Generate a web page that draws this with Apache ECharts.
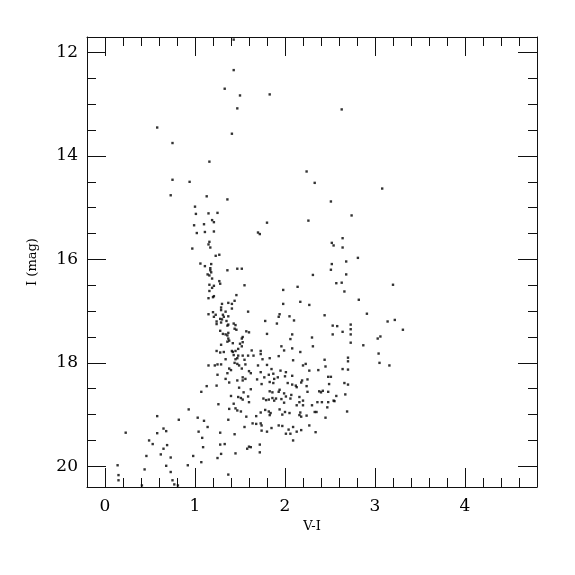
<!DOCTYPE html>
<html>
<head>
<meta charset="utf-8">
<script src="https://cdn.jsdelivr.net/npm/echarts@6/dist/echarts.min.js"></script>
<style>
html,body{margin:0;padding:0;background:#fff;}
#chart{width:575px;height:575px;}
</style>
</head>
<body>
<div id="chart"></div>
<script>
// V-I colour and I magnitude of each star
var colorVI = [
1.43,1.43,1.33,1.50,1.83,1.47,0.58,1.41,0.75,1.16,0.75,0.94,2.63,2.24,2.33,3.08,
0.73,1.13,1.36,1.00,1.01,1.15,1.25,1.19,1.21,0.99,1.10,1.80,1.11,1.02,1.21,1.70,1.72,1.16,1.15,1.17,0.97,1.23,1.27,1.06,
1.11,1.18,1.17,1.17,1.18,1.36,1.47,1.52,1.14,1.16,1.19,1.27,1.28,1.55,1.16,1.21,1.19,1.16,1.21,1.20,
1.46,1.15,1.44,1.30,1.37,1.41,1.29,1.29,1.34,1.41,1.59,1.20,1.15,1.23,1.21,1.31,1.32,1.37,1.28,1.30,
1.35,1.24,1.24,1.29,1.36,1.37,1.43,1.45,1.44,1.46,1.57,1.60,1.28,1.31,1.34,1.37,1.36,1.53,1.78,1.80,
1.91,1.93,1.94,
2.51,2.74,2.26,2.64,2.52,2.54,2.64,2.81,2.68,2.52,2.51,2.31,2.68,2.57,2.63,2.14,1.98,2.66,3.20,2.82,
1.98,2.17,2.27,2.05,2.10,2.44,2.91,2.53,2.58,2.73,2.73,2.64,3.14,3.22,3.31,2.08,2.06,2.30,2.53,2.73,
3.03,3.06,
1.96,1.99,2.08,2.17,2.31,2.73,2.87,3.04,3.05,3.16,2.70,2.70,2.64,2.70,2.09,2.20,2.23,2.44,2.45,2.27,
2.37,1.95,2.01,2.00,2.08,2.48,2.51,2.25,2.03,2.08,2.12,2.13,2.19,2.18,2.24,2.49,2.66,2.70,1.94,1.99,
2.01,2.07,2.16,2.25,2.38,2.40,2.42,2.48,2.57,2.54,2.55,2.67,1.96,1.99,2.06,2.13,2.16,2.20,2.20,2.30,
2.36,2.41,2.48,2.47,2.69,1.94,1.97,2.00,2.05,2.17,2.16,2.18,2.24,2.33,2.35,2.45,1.97,2.09,2.04,2.13,
2.18,2.27,2.34,2.01,2.06,2.09,
1.37,1.36,1.38,1.29,1.42,1.50,1.52,1.53,1.24,1.28,1.32,1.41,1.42,1.45,1.48,1.52,1.63,1.73,1.73,1.43,
1.48,1.53,1.59,1.65,1.34,1.45,1.47,1.55,1.75,1.83,1.93,1.15,1.22,1.25,1.29,1.44,1.47,1.49,1.56,1.70,
1.80,1.85,1.38,1.40,1.52,1.60,1.62,1.73,1.25,1.36,1.53,1.56,1.69,1.77,1.82,1.87,1.88,1.92,1.34,1.38,
1.47,1.53,1.83,1.87,1.74,1.24,1.13,1.62,1.49,1.07,1.54,1.83,1.86,1.93,1.40,1.48,1.51,1.53,1.59,1.76,
1.79,1.82,1.86,1.90,1.88,1.26,1.43,1.45,1.47,1.51,1.60,1.38,1.57,1.68,1.73,1.78,1.82,1.84,1.83,1.37,
1.55,1.64,1.68,1.73,1.74,1.74,1.80,1.85,1.93,1.44,1.28,1.08,1.09,1.28,1.33,1.45,1.58,1.60,1.62,1.72,
1.72,1.29,1.25,0.98,1.07,0.92,1.37,0.93,1.03,1.10,1.14,1.04,0.82,0.58,0.65,0.68,0.58,0.49,0.53,0.69,
0.65,0.62,0.46,0.73,0.23,0.44,0.68,0.73,0.75,0.77,0.81,0.41,0.14,0.15,0.15
];
var magI = [
11.75,12.34,12.70,12.83,12.81,13.08,13.45,13.57,13.75,14.11,14.46,14.50,13.10,14.30,14.52,14.63,
14.76,14.78,14.84,14.98,15.12,15.11,15.10,15.24,15.28,15.34,15.32,15.29,15.47,15.49,15.46,15.48,15.51,15.66,15.71,15.77,15.79,15.93,15.91,16.08,
16.13,16.09,16.17,16.21,16.25,16.21,16.18,16.18,16.29,16.31,16.37,16.42,16.47,16.50,16.49,16.51,16.55,16.61,16.71,16.73,
16.69,16.75,16.80,16.86,16.84,16.86,16.93,16.98,17.01,16.95,17.01,17.02,17.06,17.07,17.11,17.07,17.11,17.10,17.15,17.16,
17.19,17.20,17.25,17.22,17.28,17.26,17.24,17.27,17.34,17.36,17.39,17.41,17.38,17.44,17.45,17.42,17.47,17.50,17.19,17.44,
17.24,17.11,17.06,
14.88,15.15,15.25,15.59,15.68,15.73,15.77,15.97,16.04,16.09,16.20,16.30,16.29,16.46,16.45,16.53,16.59,16.62,16.49,16.78,
16.86,16.82,16.88,17.10,17.18,17.08,17.05,17.28,17.29,17.26,17.35,17.40,17.20,17.17,17.36,17.45,17.54,17.51,17.45,17.45,
17.53,17.49,
17.68,17.76,17.72,17.79,17.68,17.61,17.66,17.82,18.00,18.05,17.90,17.97,18.12,18.13,17.95,18.05,18.02,17.94,18.07,18.15,
18.14,18.15,18.18,18.26,18.25,18.27,18.27,18.32,18.39,18.42,18.44,18.47,18.34,18.38,18.45,18.41,18.39,18.42,18.52,18.59,
18.65,18.62,18.66,18.56,18.55,18.57,18.54,18.56,18.64,18.73,18.74,18.61,18.70,18.77,18.69,18.82,18.76,18.73,18.82,18.82,
18.76,18.76,18.76,18.86,18.94,18.90,19.00,18.95,18.97,18.96,19.01,19.04,19.02,18.95,18.95,19.06,19.22,19.24,19.29,19.33,
19.30,19.21,19.34,19.37,19.37,19.50,
17.53,17.59,17.57,17.65,17.62,17.63,17.53,17.60,17.77,17.80,17.79,17.77,17.79,17.77,17.73,17.68,17.76,17.77,17.83,17.85,
17.86,17.86,17.86,17.86,17.93,17.93,17.91,17.94,17.93,17.91,17.87,18.05,18.05,18.03,18.03,18.00,18.02,18.05,18.03,18.05,
18.04,18.12,18.11,18.14,18.11,18.16,18.20,18.18,18.23,18.20,18.28,18.31,18.32,18.28,18.23,18.21,18.31,18.28,18.31,18.38,
18.34,18.34,18.37,18.39,18.41,18.44,18.45,18.51,18.48,18.56,18.57,18.55,18.57,18.56,18.64,18.66,18.68,18.71,18.65,18.69,
18.72,18.71,18.68,18.69,18.73,18.80,18.79,18.88,18.92,18.94,18.76,18.89,19.04,19.03,18.96,18.91,18.94,18.97,19.01,19.10,
19.24,19.17,19.18,19.17,19.21,19.31,19.33,19.26,19.21,19.38,19.35,19.45,19.63,19.58,19.57,19.75,19.66,19.62,19.63,19.58,
19.73,19.76,19.84,19.80,19.92,19.98,20.16,18.90,19.06,19.12,19.24,19.33,19.10,19.03,19.27,19.32,19.36,19.50,19.57,19.59,
19.66,19.77,19.80,19.83,19.35,20.06,19.99,20.11,20.27,20.35,20.37,20.37,19.98,20.17,20.27
];

// axis ranges and ticks
var xRange = [-0.2, 4.8];
var yRange = [11.7, 20.4];
var xMajorTicks = [0, 1, 2, 3, 4];
var xMinorTicks = [0.2,0.4,0.6,0.8,1.2,1.4,1.6,1.8,2.2,2.4,2.6,2.8,3.2,3.4,3.6,3.8,4.2,4.4,4.6];
var yMajorTicks = [12, 14, 16, 18, 20];
var yMinorTicks = [12.5,13,13.5,14.5,15,15.5,16.5,17,17.5,18.5,19,19.5];
var xName = 'V-I';
var yName = 'I (mag)';

var points = colorVI.map(function (v, i) { return [v, magI[i]]; });

var FONT = 'DejaVu Serif';
var LINE = '#111';

function xAx(pos, ticks, len, showLine, showLabel, extra) {
  var o = {
    type: 'value', position: pos, min: xRange[0], max: xRange[1],
    axisLine: { show: showLine, onZero: false, lineStyle: { color: LINE, width: 1 } },
    axisTick: { show: true, inside: true, length: len, customValues: ticks, lineStyle: { color: LINE, width: 1 } },
    axisLabel: { show: showLabel, customValues: ticks, fontFamily: FONT, fontSize: 17, color: '#000', margin: 11 },
    splitLine: { show: false }
  };
  return Object.assign(o, extra || {});
}
function yAx(pos, ticks, len, showLine, showLabel, extra) {
  var o = {
    type: 'value', position: pos, min: yRange[0], max: yRange[1], inverse: true,
    axisLine: { show: showLine, onZero: false, lineStyle: { color: LINE, width: 1 } },
    axisTick: { show: true, inside: true, length: len, customValues: ticks, lineStyle: { color: LINE, width: 1 } },
    axisLabel: { show: showLabel, customValues: ticks, fontFamily: FONT, fontSize: 17, color: '#000', margin: 9 },
    splitLine: { show: false }
  };
  return Object.assign(o, extra || {});
}

var chart = echarts.init(document.getElementById('chart'), null, { renderer: 'canvas' });
chart.setOption({
  animation: false,
  backgroundColor: '#fff',
  grid: { left: 87, top: 37, width: 450, height: 450, containLabel: false },
  xAxis: [
    xAx('bottom', xMajorTicks, 19, true, true, {
      name: xName, nameLocation: 'middle', nameGap: 27,
      nameTextStyle: { fontFamily: FONT, fontSize: 13, color: '#000' }
    }),
    xAx('bottom', xMinorTicks, 9, false, false),
    xAx('top', xMajorTicks, 19, true, false),
    xAx('top', xMinorTicks, 9, false, false)
  ],
  yAxis: [
    yAx('left', yMajorTicks, 19, true, true, {
      name: yName, nameLocation: 'middle', nameGap: 48, nameRotate: 90,
      nameTextStyle: { fontFamily: FONT, fontSize: 13, color: '#000' }
    }),
    yAx('left', yMinorTicks, 9, false, false),
    yAx('right', yMajorTicks, 19, true, false),
    yAx('right', yMinorTicks, 9, false, false)
  ],
  series: [{
    type: 'scatter',
    xAxisIndex: 0, yAxisIndex: 0,
    symbol: 'rect', symbolSize: 2.4,
    itemStyle: { color: '#000' },
    data: points
  }]
});
</script>
</body>
</html>
